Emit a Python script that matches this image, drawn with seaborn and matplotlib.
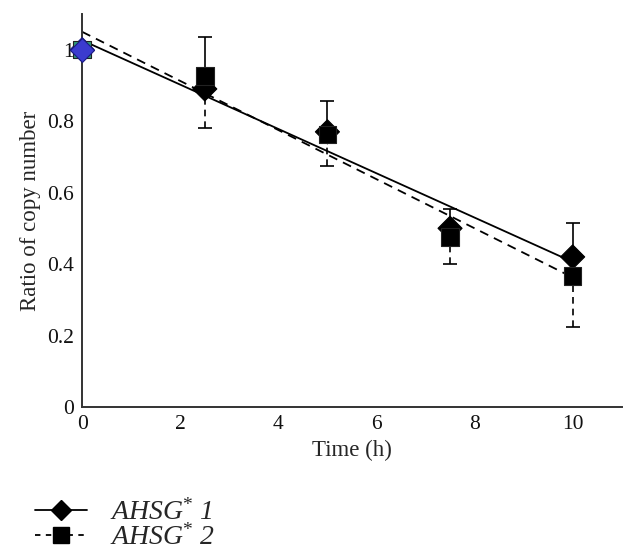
import numpy as np
import pandas as pd
import matplotlib
matplotlib.use("Agg")
import matplotlib.pyplot as plt
import seaborn as sns
from matplotlib.lines import Line2D

# ---- data ----
time_h = [0, 2.5, 5, 7.5, 10]
ahsg1 = [1.0, 0.89, 0.77, 0.50, 0.42]
ahsg1_err_up = [0.0, 0.144, 0.087, 0.055, 0.095]
ahsg2 = [1.0, 0.927, 0.762, 0.475, 0.367]
ahsg2_err_down = [0.0, 0.147, 0.087, 0.075, 0.143]
series_labels = [r"AHSG$^{*}$ 1", r"AHSG$^{*}$ 2"]
x_ticks = [0, 2, 4, 6, 8, 10]
y_ticks = [0, 0.2, 0.4, 0.6, 0.8, 1.0]
y_tick_labels = ["0", "0.2", "0.4", "0.6", "0.8", "1"]

sns.set_style("white")
plt.rcParams["font.family"] = ["Liberation Serif", "DejaVu Serif"]
plt.rcParams["mathtext.fontset"] = "custom"
plt.rcParams["mathtext.it"] = "Liberation Serif:italic"
plt.rcParams["mathtext.rm"] = "Liberation Serif"

df1 = pd.DataFrame({"t": time_h, "v": ahsg1})
df2 = pd.DataFrame({"t": time_h, "v": ahsg2})

fig = plt.figure(figsize=(6.37, 5.56), dpi=100)
ax = fig.add_axes([0.129, 0.268, 0.847, 0.707])

# trend lines
sns.regplot(data=df1, x="t", y="v", ci=None, scatter=False, truncate=True, ax=ax,
            line_kws=dict(color="black", lw=1.3, ls="-", zorder=2))
sns.regplot(data=df2, x="t", y="v", ci=None, scatter=False, truncate=True, ax=ax,
            line_kws=dict(color="black", lw=1.3, ls=(0, (5, 3.5)), zorder=2))

# error bars
ax.errorbar(time_h, ahsg1, yerr=[np.zeros(len(time_h)), ahsg1_err_up], fmt="none",
            ecolor="black", elinewidth=1.2, capsize=5, capthick=1.2, zorder=3)
eb2 = ax.errorbar(time_h, ahsg2, yerr=[ahsg2_err_down, np.zeros(len(time_h))], fmt="none",
                  ecolor="black", elinewidth=1.2, capsize=5, capthick=1.2, zorder=3)
for lc in eb2[2]:
    lc.set_linestyle((0, (4, 3)))

# markers
c1 = ["#3b3bcf"] + ["black"] * (len(time_h) - 1)
e1 = ["#1a1a80"] + ["black"] * (len(time_h) - 1)
c2 = ["#2e9a78"] + ["black"] * (len(time_h) - 1)
sns.scatterplot(data=df1, x="t", y="v", marker="D", s=150, c=c1, edgecolor=e1,
                linewidth=0.8, ax=ax, zorder=4, legend=False, clip_on=False)
sns.scatterplot(data=df2, x="t", y="v", marker="s", s=160, c=c2, edgecolor="#222222",
                linewidth=0.8, ax=ax, zorder=5, legend=False, clip_on=False)
sns.scatterplot(data=df1.iloc[:1], x="t", y="v", marker="D", s=150, c=c1[:1],
                edgecolor=e1[:1], linewidth=0.8, ax=ax, zorder=6, legend=False,
                clip_on=False)

ax.set_xlim(0, 11)
ax.set_ylim(0, 1.1)
ax.set_xticks(x_ticks)
ax.set_xticklabels([str(t) for t in x_ticks])
ax.set_yticks(y_ticks)
ax.set_yticklabels(y_tick_labels)
ax.tick_params(axis="both", length=0, labelsize=15.5, pad=6, colors="#111111")
for s in ["top", "right"]:
    ax.spines[s].set_visible(False)
for s in ["left", "bottom"]:
    ax.spines[s].set_color("#333333")
    ax.spines[s].set_linewidth(1.4)
ax.set_xlabel("Time (h)", fontsize=16.5, labelpad=4)
ax.set_ylabel("Ratio of copy number", fontsize=16.5, labelpad=4)

handles = [
    Line2D([], [], color="black", lw=1.3, ls="-", marker="D", markersize=10,
           markerfacecolor="black"),
    Line2D([], [], color="black", lw=1.3, ls=(0, (3, 3)), marker="s", markersize=11,
           markerfacecolor="black"),
]
fig.legend(handles, series_labels, loc="lower left", bbox_to_anchor=(0.015, -0.035),
           frameon=False, prop={"size": 20, "style": "italic"}, handlelength=1.9,
           labelspacing=-0.05, handletextpad=0.8)

fig.savefig("out.png", dpi=100)
